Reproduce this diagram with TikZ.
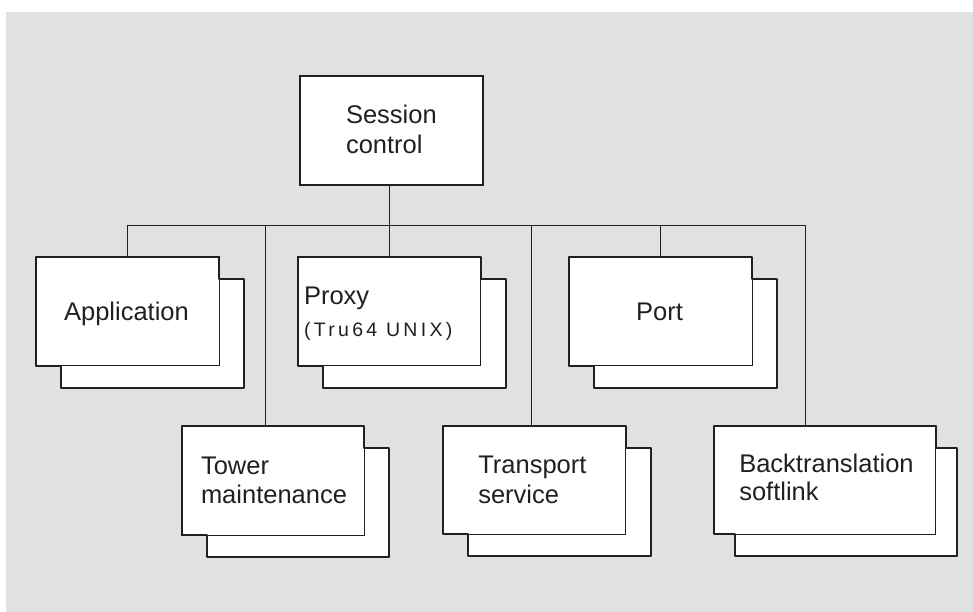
\documentclass[tikz,border=0pt]{standalone}
\usepackage{fontspec}
\setmainfont{Liberation Sans}
\definecolor{bg}{HTML}{E0E1E3}
\definecolor{ink}{HTML}{231F20}
\newcommand\dblbox[6]{%
  \node[backbox, minimum width=#4pt, minimum height=#5pt, anchor=north west] (#1b) at (#2+#6, #3+22) {};
  \node[frontbox, minimum width=#4pt, minimum height=#5pt, anchor=north west] (#1) at (#2,#3) {};
  \draw[outline] (#1.north west) -- (#1.north east) -- (#1.north east |- #1b.north) -- (#1b.north east) -- (#1b.south east) -- (#1b.south west) -- (#1b.south west |- #1.south) -- (#1.south west) -- cycle;
}
\begin{document}
\begin{tikzpicture}[x=1pt,y=-1pt,
  backbox/.style={fill=white, draw=none, inner sep=0pt, outer sep=0pt},
  frontbox/.style={fill=white, draw=ink, line width=0.8pt, inner sep=0pt, outer sep=0pt},
  outline/.style={draw=ink, line width=2pt, line join=round},
  conn/.style={draw=ink, line width=0.9pt},
  txt/.style={inner sep=0pt, outer sep=0pt, text=ink, font=\fontsize{25.5}{30}\selectfont},
  smalltxt/.style={inner sep=0pt, outer sep=0pt, text=ink, font=\fontsize{19.5}{22}\selectfont\addfontfeature{LetterSpace=17}}]
\useasboundingbox (0,0) rectangle (973,612);
\fill[bg] (6,12) rectangle (973,612);

% Session control
\node[frontbox, line width=2pt, minimum width=183.3pt, minimum height=109pt, anchor=north west] (sess) at (300,76) {};
\node[txt, anchor=base west] (sess1) at (346,123.3) {Session};
\node[txt, anchor=base west] (sess2) at (346,153.3) {control};

% stacked boxes
\dblbox{app}{36}{256.7}{183}{109}{25}
\dblbox{proxy}{297.7}{256.7}{183}{109}{25}
\dblbox{port}{569.3}{257}{183}{108.5}{25}
\dblbox{tower}{181.7}{426}{182.3}{109}{25}
\dblbox{trans}{443.3}{426}{182.4}{108.3}{25}
\dblbox{bt}{714}{426}{221.7}{108.3}{21}

% texts
\node[txt, anchor=base] (appt) at (126.5,320) {Application};
\node[txt, anchor=base west] (proxyt) at (304,304) {Proxy};
\node[smalltxt, anchor=base west] (proxyu) at (304,336) {(Tru64 UNIX)};
\node[txt, anchor=base] (portt) at (659.5,320) {Port};
\node[txt, anchor=base west] (tow1) at (201,474) {Tower};
\node[txt, anchor=base west] (tow2) at (201,503.5) {maintenance};
\node[txt, anchor=base west] (tr1) at (478.3,473.5) {Transport};
\node[txt, anchor=base west] (tr2) at (478.3,503.5) {service};
\node[txt, anchor=base west] (bt1) at (739.3,472) {Backtranslation};
\node[txt, anchor=base west] (bt2) at (739.3,500.5) {softlink};

% connectors
\coordinate (bus) at (0,225);
\coordinate (towc) at ([xshift=83.3pt]tower.north west);
\coordinate (trc) at ([xshift=88.4pt]trans.north west);
\coordinate (btc) at ([xshift=91.3pt]bt.north west);
\draw[conn] (sess.south -| proxy.north) -- (proxy.north);
\draw[conn] (app.north |- bus) -- (btc |- bus);
\draw[conn] (app.north |- bus) -- (app.north);
\draw[conn] (towc |- bus) -- (towc);
\draw[conn] (trc |- bus) -- (trc);
\draw[conn] (port.north |- bus) -- (port.north);
\draw[conn] (btc |- bus) -- (btc);
\end{tikzpicture}
\end{document}
